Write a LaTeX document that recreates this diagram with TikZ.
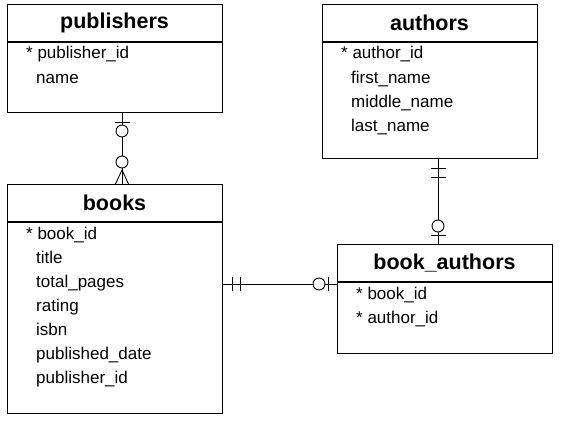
\documentclass[tikz,border=0pt]{standalone}
\usepackage{fontspec}
\setmainfont{Liberation Sans}
\begin{document}
\begin{tikzpicture}[x=1pt,y=-1pt,
  tbl/.style={draw, line width=1.3pt, anchor=north west, minimum width=215pt, inner sep=0pt},
  title/.style={font=\fontsize{21.5}{24}\selectfont\bfseries},
  attr/.style={anchor=base west, inner sep=0pt, font=\fontsize{17}{19}\selectfont},
  rel/.style={line width=0.9pt},
  symb/.style={line width=0.9pt}]
\useasboundingbox[fill=white] (0,0) rectangle (582,431);

% tables
\node (pub) [tbl, minimum height=108pt] at (7,4) {};
\node (books) [tbl, minimum height=229pt] at (7,184) {};
\node (auth) [tbl, minimum height=154pt] at (322,4) {};
\node (ba) [tbl, minimum height=109pt] at (337,244) {};

% header separators
\draw[line width=1.1pt] (7,42) -- (222,42);
\draw[line width=1.1pt] (7,222) -- (222,222);
\draw[line width=1.1pt] (322,42) -- (537,42);
\draw[line width=1.1pt] (337,282) -- (552,282);

% titles
\node (tpub) [title] at (114.5,23) {publishers};
\node (tbooks) [title] at (114.5,203) {books};
\node (tauth) [title] at (429.5,23) {authors};
\node (tba) [title] at (444.5,263) {book\_authors};

% attributes
\node (a1) [attr] at (26,59) {* publisher\_id};
\node (a2) [attr] at (36,83) {name};

\node (b1) [attr] at (26,239) {* book\_id};
\node (b2) [attr] at (36,263) {title};
\node (b3) [attr] at (36,287) {total\_pages};
\node (b4) [attr] at (36,311) {rating};
\node (b5) [attr] at (36,335) {isbn};
\node (b6) [attr] at (36,359) {published\_date};
\node (b7) [attr] at (36,383) {publisher\_id};

\node (c1) [attr] at (341,59) {* author\_id};
\node (c2) [attr] at (351,83) {first\_name};
\node (c3) [attr] at (351,107) {middle\_name};
\node (c4) [attr] at (351,131) {last\_name};

\node (d1) [attr] at (356,299) {* book\_id};
\node (d2) [attr] at (356,323) {* author\_id};

% publishers -- books
\coordinate (x1) at (122,0);
\draw[rel] (x1 |- pub.south) -- (x1 |- books.north);
\draw[symb] (114.5,122) -- (129.5,122);
\draw[symb, fill=white] (122,131) circle (6);
\draw[symb, fill=white] (122,162) circle (6);
\draw[symb] (115.5,184) -- (122,170) -- (128.5,184);

% authors -- book_authors
\coordinate (x2) at (438,0);
\draw[rel] (x2 |- auth.south) -- (x2 |- ba.north);
\draw[symb] (430.5,168) -- (445.5,168);
\draw[symb] (430.5,177) -- (445.5,177);
\draw[symb, fill=white] (438,226) circle (6);
\draw[symb] (430.5,235) -- (445.5,235);

% books -- book_authors
\coordinate (y1) at (0,284);
\draw[rel] (y1 -| books.east) -- (y1 -| ba.west);
\draw[symb] (232,277) -- (232,291);
\draw[symb] (240,277) -- (240,291);
\draw[symb, fill=white] (319,284) circle (6);
\draw[symb] (328,277) -- (328,291);
\end{tikzpicture}
\end{document}
